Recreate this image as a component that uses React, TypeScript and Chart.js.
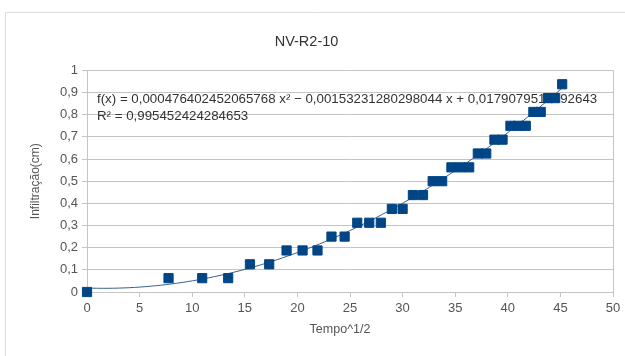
import React, { useEffect, useRef } from "react";
import { Chart, registerables } from "chart.js";

Chart.register(...registerables);

// Tempo^1/2 (x) and Infiltração (cm) (y)
const xValues = [
  0, 7.75, 10.95, 13.42, 15.49, 17.32, 18.97, 20.49, 21.91, 23.24, 24.49,
  25.69, 26.83, 27.93, 28.98, 30.0, 30.98, 31.94, 32.86, 33.76, 34.64, 35.5,
  36.33, 37.15, 37.95, 38.73, 39.5, 40.25, 40.99, 41.71, 42.43, 43.13, 43.82,
  44.5, 45.17,
];
const yValues = [
  0.0, 0.0625, 0.0625, 0.0625, 0.125, 0.125, 0.1875, 0.1875, 0.1875, 0.25,
  0.25, 0.3125, 0.3125, 0.3125, 0.375, 0.375, 0.4375, 0.4375, 0.5, 0.5,
  0.5625, 0.5625, 0.5625, 0.625, 0.625, 0.6875, 0.6875, 0.75, 0.75, 0.75,
  0.8125, 0.8125, 0.875, 0.875, 0.9375,
];

// Polynomial trendline coefficients shown on the chart
const coefA = 0.000476402452065768;
const coefB = -0.00153231280298044;
const coefC = 0.0179079512492643;
const equationLines = [
  "f(x) = 0,000476402452065768 x² − 0,00153231280298044 x + 0,0179079512492643",
  "R² = 0,995452424284653",
];

const chartTitle = "NV-R2-10";
const xTitle = "Tempo^1/2";
const yTitle = "Infiltração(cm)";

const FONT = "'Liberation Sans', Arial, sans-serif";
const BLUE = "#004586";
const GRID = "#c4c4c4";

export default function App() {
  const ref = useRef<HTMLCanvasElement | null>(null);

  useEffect(() => {
    if (!ref.current) return;
    const xMax = xValues[xValues.length - 1];
    const trend: { x: number; y: number }[] = [];
    for (let i = 0; i <= 90; i++) {
      const x = (xMax * i) / 90;
      trend.push({ x, y: coefA * x * x + coefB * x + coefC });
    }

    const decor = {
      id: "decor",
      beforeDraw(chart: any) {
        const { ctx } = chart;
        ctx.save();
        ctx.fillStyle = "#ffffff";
        ctx.fillRect(0, 0, chart.width, chart.height);
        ctx.strokeStyle = "#dcdcdc";
        ctx.lineWidth = 1;
        ctx.beginPath();
        ctx.moveTo(5.5, chart.height);
        ctx.lineTo(5.5, 12.5);
        ctx.lineTo(chart.width, 12.5);
        ctx.stroke();
        ctx.restore();
      },
      beforeDatasetsDraw(chart: any) {
        const { ctx, chartArea } = chart;
        ctx.save();
        ctx.strokeStyle = GRID;
        ctx.lineWidth = 1;
        ctx.beginPath();
        ctx.moveTo(Math.round(chartArea.right) + 0.5, chartArea.top);
        ctx.lineTo(Math.round(chartArea.right) + 0.5, chartArea.bottom);
        ctx.stroke();
        ctx.fillStyle = "#333333";
        ctx.font = "13.3px " + FONT;
        ctx.textBaseline = "middle";
        ctx.textAlign = "left";
        equationLines.forEach((t, i) => {
          ctx.fillText(t, chartArea.left + 10, chartArea.top + 29 + i * 17);
        });
        // x axis title, placed as in the reference (slightly left of plot centre)
        ctx.fillStyle = "#555555";
        ctx.font = "12.5px " + FONT;
        ctx.textAlign = "center";
        ctx.fillText(xTitle, (chartArea.left + chartArea.right) / 2 - 10, chart.height - 26);
        ctx.restore();
      },
    };

    const chart = new Chart(ref.current, {
      type: "scatter",
      data: {
        datasets: [
          {
            label: "Infiltração",
            data: xValues.map((x, i) => ({ x, y: yValues[i] })),
            backgroundColor: BLUE,
            borderColor: BLUE,
            borderWidth: 1,
            pointStyle: "rect",
            pointRadius: 6.5,
            showLine: false,
            clip: false,
            order: 1,
          } as any,
          {
            label: "Tendência",
            data: trend,
            type: "line",
            borderColor: "#3b5f8a",
            borderWidth: 1,
            pointRadius: 0,
            showLine: true,
            fill: false,
            order: 2,
          } as any,
        ],
      },
      plugins: [decor],
      options: {
        animation: false,
        responsive: false,
        layout: { padding: { left: 0, right: 12, top: 0, bottom: 0 } },
        plugins: {
          legend: { display: false },
          tooltip: { enabled: false },
          title: {
            display: true,
            text: chartTitle,
            color: "#333333",
            font: { family: FONT, size: 14.5, weight: "normal" },
            padding: { top: 33, bottom: 20 },
          },
        },
        scales: {
          x: {
            type: "linear",
            min: 0,
            max: 50,
            afterFit: (s: any) => {
              s.height = 64;
            },
            ticks: {
              stepSize: 5,
              color: "#555555",
              font: { family: FONT, size: 13 },
              padding: 4,
              maxRotation: 0,
            },
            grid: {
              drawOnChartArea: false,
              drawTicks: true,
              tickLength: 5,
              color: GRID,
            },
            border: { color: GRID },
            title: { display: false },
          },
          y: {
            type: "linear",
            min: 0,
            max: 1,
            afterFit: (s: any) => {
              s.width = 87;
            },
            ticks: {
              stepSize: 0.1,
              color: "#555555",
              font: { family: FONT, size: 13 },
              padding: 4,
              callback: (v: any) =>
                String(Number(Number(v).toFixed(1))).replace(".", ","),
            },
            grid: {
              color: GRID,
              tickLength: 5,
            },
            border: { color: GRID },
            title: {
              display: true,
              text: yTitle,
              color: "#555555",
              font: { family: FONT, size: 12 },
              padding: { top: 28, bottom: 0 },
            },
          },
        },
      },
    });
    return () => chart.destroy();
  }, []);

  return (
    <div style={{ position: "fixed", left: 0, top: 0, width: 625, height: 356 }}>
      <canvas ref={ref} width={625} height={356} />
    </div>
  );
}
